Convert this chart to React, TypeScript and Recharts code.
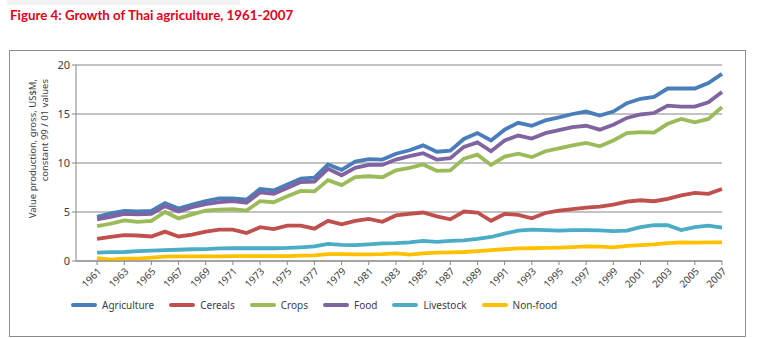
import { LineChart, Line, XAxis, YAxis, CartesianGrid } from 'recharts'

const years = [
  1961, 1962, 1963, 1964, 1965, 1966, 1967, 1968, 1969, 1970,
  1971, 1972, 1973, 1974, 1975, 1976, 1977, 1978, 1979, 1980,
  1981, 1982, 1983, 1984, 1985, 1986, 1987, 1988, 1989, 1990,
  1991, 1992, 1993, 1994, 1995, 1996, 1997, 1998, 1999, 2000,
  2001, 2002, 2003, 2004, 2005, 2006, 2007,
]

const agriculture = [
  4.5, 4.85, 5.1, 5.05, 5.1, 5.9, 5.35, 5.75, 6.1, 6.4,
  6.4, 6.25, 7.35, 7.2, 7.8, 8.4, 8.5, 9.85, 9.3, 10.15,
  10.4, 10.35, 10.95, 11.3, 11.8, 11.15, 11.25, 12.45, 13.05, 12.3,
  13.4, 14.1, 13.8, 14.35, 14.65, 15.0, 15.25, 14.85, 15.25, 16.1,
  16.55, 16.75, 17.6, 17.6, 17.6, 18.15, 19.1,
]

const cereals = [
  2.25, 2.45, 2.65, 2.6, 2.5, 3.0, 2.5, 2.7, 3.0, 3.2,
  3.2, 2.85, 3.45, 3.25, 3.6, 3.6, 3.3, 4.1, 3.75, 4.1,
  4.3, 4.0, 4.65, 4.8, 4.95, 4.55, 4.25, 5.05, 4.95, 4.1,
  4.8, 4.7, 4.35, 4.9, 5.15, 5.3, 5.45, 5.55, 5.75, 6.05,
  6.2, 6.1, 6.35, 6.7, 6.95, 6.85, 7.35,
]

const crops = [
  3.55, 3.8, 4.15, 4.0, 4.1, 5.0, 4.35, 4.75, 5.15, 5.25,
  5.3, 5.15, 6.1, 6.0, 6.6, 7.15, 7.1, 8.25, 7.75, 8.55,
  8.65, 8.55, 9.25, 9.5, 9.85, 9.2, 9.25, 10.45, 10.85, 9.8,
  10.65, 10.95, 10.6, 11.2, 11.5, 11.8, 12.05, 11.7, 12.3, 13.05,
  13.15, 13.1, 14.0, 14.5, 14.15, 14.5, 15.7,
]

const food = [
  4.25, 4.5, 4.8, 4.75, 4.8, 5.6, 5.05, 5.5, 5.8, 6.0,
  6.1, 5.95, 7.0, 6.85, 7.45, 8.05, 8.1, 9.4, 8.75, 9.5,
  9.8, 9.8, 10.35, 10.7, 11.0, 10.35, 10.5, 11.65, 12.1, 11.2,
  12.3, 12.8, 12.5, 13.05, 13.35, 13.65, 13.8, 13.4, 13.9, 14.6,
  14.95, 15.1, 15.85, 15.75, 15.75, 16.2, 17.25,
]

const livestock = [
  0.85, 0.9, 0.92, 1.0, 1.05, 1.1, 1.15, 1.2, 1.22, 1.28,
  1.3, 1.3, 1.3, 1.3, 1.33, 1.4, 1.5, 1.75, 1.65, 1.63,
  1.7, 1.8, 1.83, 1.9, 2.05, 1.95, 2.05, 2.1, 2.25, 2.45,
  2.8, 3.1, 3.2, 3.15, 3.1, 3.15, 3.15, 3.13, 3.05, 3.1,
  3.45, 3.65, 3.65, 3.15, 3.45, 3.6, 3.4,
]

const nonFood = [
  0.3, 0.15, 0.25, 0.25, 0.35, 0.45, 0.48, 0.48, 0.48, 0.48,
  0.5, 0.5, 0.5, 0.5, 0.5, 0.55, 0.58, 0.7, 0.7, 0.68,
  0.68, 0.7, 0.78, 0.65, 0.78, 0.85, 0.88, 0.92, 1.0, 1.1,
  1.2, 1.28, 1.3, 1.33, 1.36, 1.42, 1.5, 1.46, 1.4, 1.55,
  1.63, 1.7, 1.83, 1.9, 1.87, 1.9, 1.9,
]

const yTicks = [0, 5, 10, 15, 20]
const xTicks = [
  1961, 1963, 1965, 1967, 1969, 1971, 1973, 1975, 1977, 1979, 1981, 1983,
  1985, 1987, 1989, 1991, 1993, 1995, 1997, 1999, 2001, 2003, 2005, 2007,
]

const series = [
  { key: 'agriculture', name: 'Agriculture', color: '#4a7ebb', values: agriculture },
  { key: 'cereals', name: 'Cereals', color: '#c0504d', values: cereals },
  { key: 'crops', name: 'Crops', color: '#9bbb59', values: crops },
  { key: 'food', name: 'Food', color: '#8064a2', values: food },
  { key: 'livestock', name: 'Livestock', color: '#4bacc6', values: livestock },
  { key: 'nonFood', name: 'Non-food', color: '#ffc000', values: nonFood },
]

const data = years.map((year, i) => {
  const row: Record<string, number> = { year }
  series.forEach((s) => {
    row[s.key] = s.values[i]
  })
  return row
})

const textColor = '#404040'
const axisColor = '#868686'
const font = '"Noto Sans", sans-serif'

function YLabel() {
  return (
    <g fill={textColor} fontSize={9.5} fontFamily={font}>
      <text transform="translate(36, 79) rotate(-90)" textAnchor="end">
        Value production, gross, US$M,
      </text>
      <text transform="translate(48, 79) rotate(-90)" textAnchor="end">
        constant 99 / 01 values
      </text>
    </g>
  )
}

export default function App() {
  return (
    <div style={{ position: 'absolute', left: 0, top: 0, width: 758, height: 338, background: '#fff' }}>
      <div style={{ position: 'absolute', left: 7, top: 0, width: 233, height: 5, background: '#f3f3f3' }} />
      <div
        style={{
          position: 'absolute',
          left: 10,
          top: 7,
          fontFamily: 'Lato, sans-serif',
          fontWeight: 700,
          fontSize: 13.3,
          color: '#e2001a',
        }}
      >
        Figure 4: Growth of Thai agriculture, 1961-2007
      </div>
      <div
        style={{
          position: 'absolute',
          left: 9,
          top: 50,
          width: 737,
          height: 287,
          boxSizing: 'border-box',
          border: '1px solid #8c8c8c',
        }}
      />
      <div style={{ position: 'absolute', left: 0, top: 0 }}>
        <LineChart width={758} height={338} data={data} margin={{ top: 65, right: 36, left: 36, bottom: 37 }}>
          <CartesianGrid horizontal vertical={false} stroke={axisColor} strokeWidth={1} />
          <XAxis
            dataKey="year"
            type="number"
            domain={[1959.45, 2007]}
            ticks={xTicks}
            interval={0}
            height={40}
            stroke={axisColor}
            tickSize={4}
            angle={-45}
            textAnchor="end"
            tick={{ fill: textColor, fontSize: 10, fontFamily: font }}
          />
          <YAxis
            domain={[0, 20]}
            ticks={yTicks}
            width={40}
            stroke={axisColor}
            tickSize={4}
            tick={{ fill: textColor, fontSize: 11, fontFamily: font }}
            label={{ content: () => <YLabel /> }}
          />
          {series.map((s) => (
            <Line
              key={s.key}
              dataKey={s.key}
              name={s.name}
              type="linear"
              stroke={s.color}
              strokeWidth={3.8}
              dot={false}
              isAnimationActive={false}
            />
          ))}
        </LineChart>
      </div>
      <div
        style={{
          position: 'absolute',
          left: 71,
          top: 298,
          display: 'flex',
          alignItems: 'center',
          fontFamily: font,
          fontSize: 10,
          color: textColor,
        }}
      >
        {series.map((s) => (
          <div key={s.key} style={{ display: 'flex', alignItems: 'center', marginRight: 15 }}>
            <span style={{ display: 'inline-block', width: 26, height: 4, borderRadius: 2, background: s.color, marginRight: 5 }} />
            <span>{s.name}</span>
          </div>
        ))}
      </div>
    </div>
  )
}
